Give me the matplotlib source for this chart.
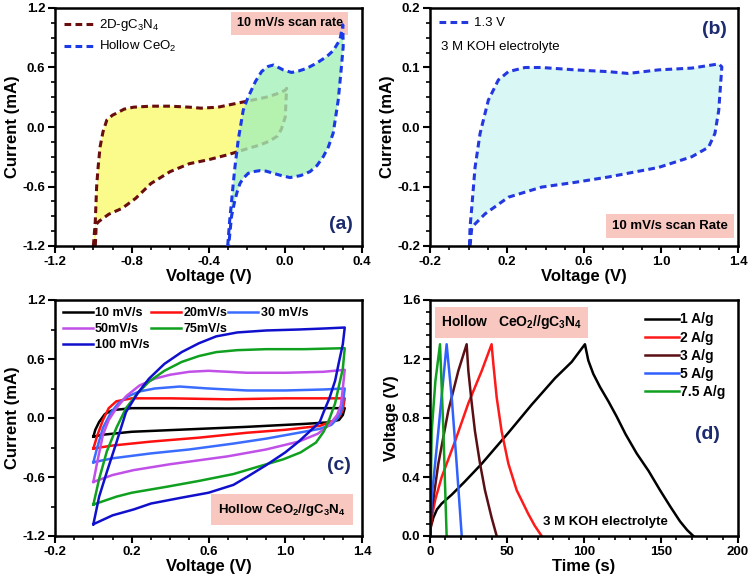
import matplotlib
matplotlib.use("Agg")
import matplotlib.pyplot as plt
from matplotlib.lines import Line2D
from matplotlib.ticker import MultipleLocator

plt.rcParams['font.family'] = ['Liberation Sans', 'DejaVu Sans']
plt.rcParams['font.weight'] = 'bold'
plt.rcParams['mathtext.default'] = 'regular'

# ---------------- data ----------------
# (a) CV at 10 mV/s, closed loops (voltage V, current mA)
gcn_v = [-1.0, -0.99, -0.983, -0.975, -0.965, -0.95, -0.93, -0.9, -0.878, -0.84, -0.79, -0.7, -0.6,
         -0.5, -0.44, -0.35, -0.3, -0.25, -0.2, -0.15, -0.1, -0.05, 0.0, 0.007,
         0.0, -0.02, -0.04, -0.08, -0.13, -0.2, -0.25, -0.3, -0.4, -0.5, -0.6, -0.7,
         -0.78, -0.85, -0.92, -0.97, -0.985, -0.99]
gcn_i = [-1.2, -0.95, -0.6, -0.4, -0.2, -0.05, 0.07, 0.12, 0.14, 0.18, 0.2, 0.21, 0.21,
         0.2, 0.19, 0.2, 0.22, 0.24, 0.26, 0.28, 0.3, 0.33, 0.37, 0.39,
         0.1, -0.02, -0.09, -0.14, -0.18, -0.22, -0.25, -0.28, -0.33, -0.37, -0.45, -0.57,
         -0.72, -0.82, -0.88, -0.95, -0.98, -1.2]

ceo_v = [-0.30, -0.29, -0.279, -0.27, -0.262, -0.245, -0.219, -0.2, -0.184, -0.155, -0.123, -0.09,
         -0.062, -0.035, -0.01, 0.033, 0.07, 0.11, 0.16, 0.216, 0.25, 0.285, 0.3,
         0.302, 0.29, 0.276, 0.25, 0.225, 0.198, 0.165, 0.129, 0.08, 0.025, -0.02, -0.062,
         -0.1, -0.132, -0.165, -0.193, -0.22, -0.236, -0.25, -0.262, -0.28, -0.295]
ceo_i = [-1.2, -0.95, -0.735, -0.55, -0.4, -0.13, 0.17, 0.27, 0.34, 0.46, 0.56, 0.61,
         0.625, 0.6, 0.575, 0.55, 0.565, 0.59, 0.64, 0.71, 0.77, 0.88, 1.03,
         0.81, 0.55, 0.27, -0.06, -0.2, -0.3, -0.39, -0.45, -0.49, -0.51, -0.49, -0.467,
         -0.445, -0.44, -0.45, -0.467, -0.52, -0.57, -0.65, -0.735, -0.9, -1.2]

# (b) device CV at 1.3 V
dev_v = [0.005, 0.008, 0.017, 0.034, 0.06, 0.103, 0.155, 0.207, 0.294, 0.38, 0.554, 0.727, 0.83,
         0.987, 1.16, 1.3, 1.316,
         1.3, 1.28, 1.247, 1.16, 0.987, 0.727, 0.554, 0.38, 0.207, 0.086, 0.034, 0.017, 0.008]
dev_i = [-0.2, -0.169, -0.135, -0.068, -0.011, 0.045, 0.079, 0.093, 0.1, 0.1, 0.096, 0.093, 0.09,
         0.096, 0.099, 0.106, 0.101,
         0.028, -0.011, -0.034, -0.05, -0.068, -0.084, -0.093, -0.101, -0.118, -0.146, -0.163, -0.169, -0.2]

# (c) CV at different scan rates: (upper V, upper I, lower V, lower I)
scan_labels = ['10 mV/s', '20mV/s', '30 mV/s', '50mV/s', '75mV/s', '100 mV/s']
scan_colors = ['black', '#ff1010', '#3a6cff', '#c050e8', '#10a020', '#1010cc']
cv10 = ([0.0, 0.01, 0.03, 0.06, 0.1, 0.2, 0.4, 0.7, 1.0, 1.2, 1.31],
        [-0.19, -0.12, -0.04, 0.04, 0.08, 0.1, 0.1, 0.097, 0.1, 0.1, 0.1],
        [1.31, 1.3, 1.28, 1.22, 1.1, 0.8, 0.5, 0.2, 0.05, 0.0],
        [0.1, 0.03, -0.02, -0.045, -0.06, -0.09, -0.115, -0.14, -0.17, -0.19])
cv20 = ([0.0, 0.02, 0.05, 0.08, 0.12, 0.2, 0.4, 0.7, 1.0, 1.31],
        [-0.31, -0.18, -0.02, 0.1, 0.17, 0.2, 0.2, 0.19, 0.2, 0.2],
        [1.31, 1.3, 1.28, 1.25, 1.18, 1.0, 0.8, 0.55, 0.3, 0.1, 0.0],
        [0.2, 0.08, 0.01, -0.03, -0.08, -0.12, -0.15, -0.2, -0.24, -0.28, -0.31])
cv30 = ([0.0, 0.02, 0.05, 0.09, 0.13, 0.18, 0.24, 0.32, 0.45, 0.6, 0.8, 1.0, 1.2, 1.31],
        [-0.45, -0.3, -0.1, 0.05, 0.15, 0.22, 0.27, 0.3, 0.32, 0.3, 0.28, 0.28, 0.29, 0.3],
        [1.31, 1.3, 1.29, 1.27, 1.24, 1.18, 1.07, 0.9, 0.73, 0.5, 0.3, 0.1, 0.0],
        [0.3, 0.15, 0.06, -0.01, -0.07, -0.11, -0.15, -0.21, -0.26, -0.32, -0.36, -0.41, -0.45])
cv50 = ([0.0, 0.02, 0.05, 0.08, 0.12, 0.17, 0.24, 0.32, 0.4, 0.5, 0.6, 0.8, 1.0, 1.2, 1.31],
        [-0.65, -0.45, -0.17, -0.02, 0.1, 0.22, 0.33, 0.4, 0.44, 0.47, 0.48, 0.46, 0.46, 0.47, 0.49],
        [1.31, 1.3, 1.29, 1.27, 1.23, 1.17, 1.07, 0.9, 0.7, 0.55, 0.4, 0.21, 0.1, 0.0],
        [0.49, 0.3, 0.13, 0.03, -0.07, -0.16, -0.24, -0.32, -0.39, -0.43, -0.47, -0.53, -0.58, -0.65])
cv75 = ([0.0, 0.03, 0.07, 0.12, 0.17, 0.23, 0.29, 0.37, 0.46, 0.55, 0.64, 0.75, 0.9, 1.1, 1.31],
        [-0.88, -0.62, -0.34, -0.1, 0.1, 0.25, 0.37, 0.48, 0.57, 0.63, 0.67, 0.69, 0.7, 0.7, 0.71],
        [1.31, 1.3, 1.28, 1.26, 1.23, 1.2, 1.16, 1.08, 0.99, 0.85, 0.73, 0.55, 0.38, 0.2, 0.12, 0.0],
        [0.71, 0.5, 0.33, 0.15, -0.01, -0.14, -0.25, -0.35, -0.42, -0.5, -0.57, -0.64, -0.7, -0.76, -0.8, -0.88])
cv100 = ([0.0, 0.03, 0.07, 0.12, 0.17, 0.23, 0.29, 0.37, 0.46, 0.55, 0.64, 0.75, 0.9, 1.07, 1.2, 1.31],
         [-1.08, -0.8, -0.55, -0.25, 0.06, 0.25, 0.4, 0.55, 0.67, 0.76, 0.83, 0.87, 0.89, 0.9, 0.91, 0.92],
         [1.31, 1.3, 1.28, 1.26, 1.23, 1.2, 1.18, 1.12, 1.07, 1.0, 0.9, 0.8, 0.73, 0.6, 0.46, 0.3, 0.21, 0.1, 0.0],
         [0.92, 0.75, 0.57, 0.38, 0.2, 0.06, -0.04, -0.15, -0.24, -0.35, -0.48, -0.6, -0.68, -0.76, -0.81, -0.87, -0.93, -0.99, -1.08])
scan_curves = [cv10, cv20, cv30, cv50, cv75, cv100]

# (d) galvanostatic charge-discharge (time s, voltage V)
gcd_labels = ['1 A/g', '2 A/g', '3 A/g', '5 A/g', '7.5 A/g']
gcd_colors = ['black', '#ff1a1a', '#5a0f14', '#3060ff', '#10a020']
t1 = [0, 0.5, 2.2, 4.5, 7.6, 14.1, 22.7, 33.6, 50.9, 66, 81.2, 92, 100.6,
      102.8, 106, 110.4, 116, 121.2, 127, 134.2, 142, 149.4, 156, 162.3, 167, 171]
v1 = [0, 0.06, 0.125, 0.18, 0.22, 0.28, 0.37, 0.49, 0.7, 0.89, 1.07, 1.18, 1.3,
      1.19, 1.1, 1.01, 0.91, 0.81, 0.69, 0.56, 0.44, 0.31, 0.2, 0.1, 0.04, 0.0]
t2 = [0, 1.1, 3.5, 7.6, 16.2, 24.9, 33.6, 40, 41.1, 43.3, 46.5, 50.9, 56.3, 63.8, 68, 72.5]
v2 = [0, 0.125, 0.25, 0.4, 0.64, 0.9, 1.12, 1.3, 1.17, 0.94, 0.71, 0.49, 0.31, 0.15, 0.07, 0.0]
t3 = [0, 1.1, 5.4, 11.9, 18.4, 23.8, 24.9, 27.1, 29.2, 32.5, 35.7, 40, 43.3]
v3 = [0, 0.17, 0.49, 0.85, 1.12, 1.3, 1.12, 0.9, 0.71, 0.49, 0.31, 0.125, 0.0]
t5 = [0, 1.1, 5.4, 10.8, 14.1, 17.3, 20.6]
v5 = [0, 0.26, 0.71, 1.3, 0.94, 0.49, 0.0]
t75 = [0, 1.1, 3.5, 6.5, 8.7, 10.8]
v75 = [0, 0.71, 1.05, 1.3, 0.71, 0.0]
gcd_curves = [(t1, v1), (t2, v2), (t3, v3), (t5, v5), (t75, v75)]

# ---------------- figure ----------------
W, H = 750, 580
fig = plt.figure(figsize=(7.5, 5.8), dpi=100)


def make_ax(left, top, right, bottom):
    return fig.add_axes([left / W, 1 - bottom / H, (right - left) / W, (bottom - top) / H])


def style(ax, xlabel, ylabel):
    for s in ax.spines.values():
        s.set_linewidth(1.8)
    ax.tick_params(which='major', direction='out', length=5, width=1.5, labelsize=9.5,
                   top=False, right=False, pad=2)
    ax.tick_params(which='minor', direction='out', length=3, width=1.2, top=False, right=False)
    ax.set_xlabel(xlabel, fontsize=12, fontweight='bold', labelpad=1)
    ax.set_ylabel(ylabel, fontsize=12, fontweight='bold', labelpad=2)
    for lab in ax.get_xticklabels() + ax.get_yticklabels():
        lab.set_fontweight('bold')


navy = '#1c2a6e'
pink = '#f8c8c0'
dash = (0, (2.2, 1.4))

# ----- (a) -----
ax = make_ax(55, 8, 362, 246)
ax.fill(gcn_v, gcn_i, color='#fbfb8c', lw=0, zorder=1)
ax.plot(gcn_v, gcn_i, color='#6a0d0d', lw=2.2, ls=dash, label='2D-gC$_3$N$_4$', zorder=2)
# green fill goes over the brown loop so it looks faded in the overlap
ax.fill(ceo_v, ceo_i, color='#a4f0b8', alpha=0.8, lw=0, zorder=3)
ax.plot(ceo_v, ceo_i, color='#1a3ae8', lw=2.2, ls=dash, label='Hollow CeO$_2$', zorder=4)
ax.set_xlim(-1.2, 0.4)
ax.set_ylim(-1.2, 1.2)
ax.set_xticks([-1.2, -0.8, -0.4, 0.0, 0.4])
ax.set_yticks([-1.2, -0.6, 0.0, 0.6, 1.2])
ax.xaxis.set_minor_locator(MultipleLocator(0.1))
ax.yaxis.set_minor_locator(MultipleLocator(0.15))
ax.xaxis.set_major_formatter(lambda x, p: f'{x:.1f}')
ax.yaxis.set_major_formatter(lambda x, p: f'{x:.1f}')
style(ax, 'Voltage (V)', 'Current (mA)')
ax.legend(loc='upper left', frameon=False, handlelength=2.2, handletextpad=0.4,
          labelspacing=0.45, borderaxespad=0.3, prop={'weight': 'normal', 'size': 9.5})
ax.text(0.765, 0.935, '10 mV/s scan rate', transform=ax.transAxes, ha='center', va='center',
        fontsize=9, fontweight='bold', bbox=dict(boxstyle='square,pad=0.45', fc=pink, ec='none'))
ax.text(0.93, 0.09, '(a)', transform=ax.transAxes, ha='center', va='center',
        fontsize=14, fontweight='bold', color=navy)

# ----- (b) -----
ax = make_ax(430, 8, 738, 246)
ax.fill(dev_v, dev_i, color='#d9f7f5', lw=0)
ax.plot(dev_v, dev_i, color='#2438e0', lw=2.2, ls=dash, label='1.3 V')
ax.set_xlim(-0.2, 1.4)
ax.set_ylim(-0.2, 0.2)
ax.set_xticks([-0.2, 0.2, 0.6, 1.0, 1.4])
ax.set_yticks([-0.2, -0.1, 0.0, 0.1, 0.2])
ax.xaxis.set_minor_locator(MultipleLocator(0.1))
ax.yaxis.set_minor_locator(MultipleLocator(0.025))
ax.xaxis.set_major_formatter(lambda x, p: f'{x:.1f}')
ax.yaxis.set_major_formatter(lambda x, p: f'{x:.1f}')
style(ax, 'Voltage (V)', 'Current (mA)')
ax.legend(loc='upper left', frameon=False, handlelength=2.2, handletextpad=0.4,
          borderaxespad=0.3, prop={'weight': 'normal', 'size': 9.5})
ax.text(0.035, 0.835, '3 M KOH electrolyte', transform=ax.transAxes, ha='left', va='center',
        fontsize=9.5, fontweight='normal')
ax.text(0.78, 0.085, '10 mV/s scan Rate', transform=ax.transAxes, ha='center', va='center',
        fontsize=9.5, fontweight='bold', bbox=dict(boxstyle='square,pad=0.45', fc=pink, ec='none'))
ax.text(0.925, 0.91, '(b)', transform=ax.transAxes, ha='center', va='center',
        fontsize=14, fontweight='bold', color=navy)

# ----- (c) -----
ax = make_ax(55, 300, 362, 536)
handles = []
for (vu, iu, vd, idn), lab, col in zip(scan_curves, scan_labels, scan_colors):
    h, = ax.plot(vu + vd, iu + idn, color=col, lw=1.8, label=lab)
    handles.append(h)
ax.set_xlim(-0.2, 1.4)
ax.set_ylim(-1.2, 1.2)
ax.set_xticks([-0.2, 0.2, 0.6, 1.0, 1.4])
ax.set_yticks([-1.2, -0.6, 0.0, 0.6, 1.2])
ax.xaxis.set_minor_locator(MultipleLocator(0.1))
ax.yaxis.set_minor_locator(MultipleLocator(0.3))
ax.xaxis.set_major_formatter(lambda x, p: f'{x:.1f}')
ax.yaxis.set_major_formatter(lambda x, p: f'{x:.1f}')
style(ax, 'Voltage (V)', 'Current (mA)')
# legend filled row by row: 3 / 2 / 1 entries
blank = Line2D([], [], color='none')
order = [handles[0], handles[3], handles[5], handles[1], handles[4], blank, handles[2], blank, blank]
labs = [scan_labels[0], scan_labels[3], scan_labels[5], scan_labels[1], scan_labels[4], '',
        scan_labels[2], '', '']
ax.legend(order, labs, loc='upper left', ncol=3, frameon=False, handlelength=2.4,
          handletextpad=0.2, columnspacing=0.1, labelspacing=0.3, borderaxespad=0.2,
          prop={'weight': 'bold', 'size': 9})
ax.text(0.74, 0.112, 'Hollow CeO$_2$//gC$_3$N$_4$', transform=ax.transAxes, ha='center',
        va='center', fontsize=9.5, fontweight='bold',
        bbox=dict(boxstyle='square,pad=0.55', fc=pink, ec='none'))
ax.text(0.925, 0.3, '(c)', transform=ax.transAxes, ha='center', va='center',
        fontsize=14, fontweight='bold', color=navy)

# ----- (d) -----
ax = make_ax(430, 300, 738, 536)
for (t, v), lab, col in zip(gcd_curves, gcd_labels, gcd_colors):
    ax.plot(t, v, color=col, lw=1.8, label=lab)
ax.set_xlim(0, 200)
ax.set_ylim(0, 1.6)
ax.set_xticks([0, 50, 100, 150, 200])
ax.set_yticks([0.0, 0.4, 0.8, 1.2, 1.6])
ax.xaxis.set_minor_locator(MultipleLocator(10))
ax.yaxis.set_minor_locator(MultipleLocator(0.08))
ax.yaxis.set_major_formatter(lambda x, p: f'{x:.1f}')
style(ax, 'Time (s)', 'Voltage (V)')
ax.legend(loc='upper right', frameon=False, handlelength=2.4, handletextpad=0.1,
          labelspacing=0.3, borderaxespad=0.5, prop={'weight': 'bold', 'size': 10})
ax.text(0.035, 0.905, 'Hollow   CeO$_2$//gC$_3$N$_4$', transform=ax.transAxes, ha='left',
        va='center', fontsize=10, fontweight='bold',
        bbox=dict(boxstyle='square,pad=0.45', fc=pink, ec='none'))
ax.text(0.57, 0.06, '3 M KOH electrolyte', transform=ax.transAxes, ha='center', va='center',
        fontsize=9.5, fontweight='bold')
ax.text(0.9, 0.43, '(d)', transform=ax.transAxes, ha='center', va='center',
        fontsize=14, fontweight='bold', color=navy)

fig.savefig('out.png', dpi=100)
